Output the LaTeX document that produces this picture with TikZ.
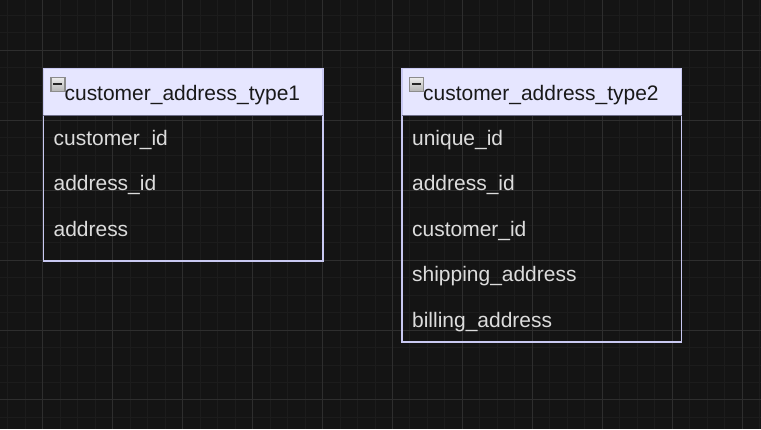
\documentclass[tikz,border=0pt]{standalone}
\usepackage{fontspec}
\setmainfont{Liberation Sans}

\definecolor{bgdark}{HTML}{141414}
\definecolor{gridminor}{HTML}{1C1C1C}
\definecolor{gridmajor}{HTML}{2E2E2E}
\definecolor{headfill}{HTML}{E6E6FF}
\definecolor{tblborder}{HTML}{C9C9F2}
\definecolor{sepline}{HTML}{6E6E88}
\definecolor{fieldgray}{HTML}{DCDCDC}

\begin{document}
\begin{tikzpicture}[x=1pt, y=-1pt,
    tblhead/.style={rectangle, draw=tblborder, fill=headfill, line width=1.5pt, outer sep=0pt, anchor=north west},
    tblbody/.style={rectangle, draw=tblborder, line width=1.5pt, outer sep=0pt, anchor=north west},
    titletxt/.style={anchor=base west, inner sep=0pt, text=black!90, font=\fontsize{21}{25}\selectfont},
    fieldtxt/.style={anchor=base west, inner sep=0pt, text=fieldgray, font=\fontsize{21}{25}\selectfont},
    iconbox/.style={rectangle, draw=black!45, line width=1.2pt, top color=white!92!black, bottom color=black!30, minimum size=14pt, inner sep=0pt,
        path picture={\draw[line width=1.8pt, black!85] ([xshift=2.5pt, yshift=0.8pt]path picture bounding box.west) -- ([xshift=-2.5pt, yshift=0.8pt]path picture bounding box.east);}}]

    % background and grid
    \fill[bgdark] (0,0) rectangle (761,429);
    \foreach \gx in {7.5,25,...,760} \draw[gridminor, line width=1pt] (\gx,0) -- (\gx,429);
    \foreach \gy in {15,32.5,...,429} \draw[gridminor, line width=1pt] (0,\gy) -- (761,\gy);
    \foreach \gx in {42.5,112.5,...,760} \draw[gridmajor, line width=1pt] (\gx,0) -- (\gx,429);
    \foreach \gy in {50,120,...,429} \draw[gridmajor, line width=1pt] (0,\gy) -- (761,\gy);

    % customer_address_type1
    \node[tblhead, minimum width=280pt, minimum height=47pt] (t1head) at (43,68) {};
    \node[tblbody, minimum width=280pt, minimum height=146pt] (t1body) at (t1head.south west) {};
    \draw[sepline, line width=1pt] (t1head.south west) -- (t1head.south east);
    \node[iconbox] (t1icon) at (57.5,84.5) {};
    \node[titletxt] (t1title) at (64,100) {customer\_address\_type1};
    \node[fieldtxt] (t1f1) at (53,145) {customer\_id};
    \node[fieldtxt] (t1f2) at (53,190.5) {address\_id};
    \node[fieldtxt] (t1f3) at (53,236) {address};

    % customer_address_type2
    \node[tblhead, minimum width=280pt, minimum height=47pt] (t2head) at (402,68) {};
    \node[tblbody, minimum width=280pt, minimum height=227pt] (t2body) at (t2head.south west) {};
    \draw[sepline, line width=1pt] (t2head.south west) -- (t2head.south east);
    \node[iconbox] (t2icon) at (416.5,84.5) {};
    \node[titletxt] (t2title) at (423,100) {customer\_address\_type2};
    \node[fieldtxt] (t2f1) at (412,145) {unique\_id};
    \node[fieldtxt] (t2f2) at (412,190.5) {address\_id};
    \node[fieldtxt] (t2f3) at (412,236) {customer\_id};
    \node[fieldtxt] (t2f4) at (412,281.5) {shipping\_address};
    \node[fieldtxt] (t2f5) at (412,327) {billing\_address};

\end{tikzpicture}
\end{document}
